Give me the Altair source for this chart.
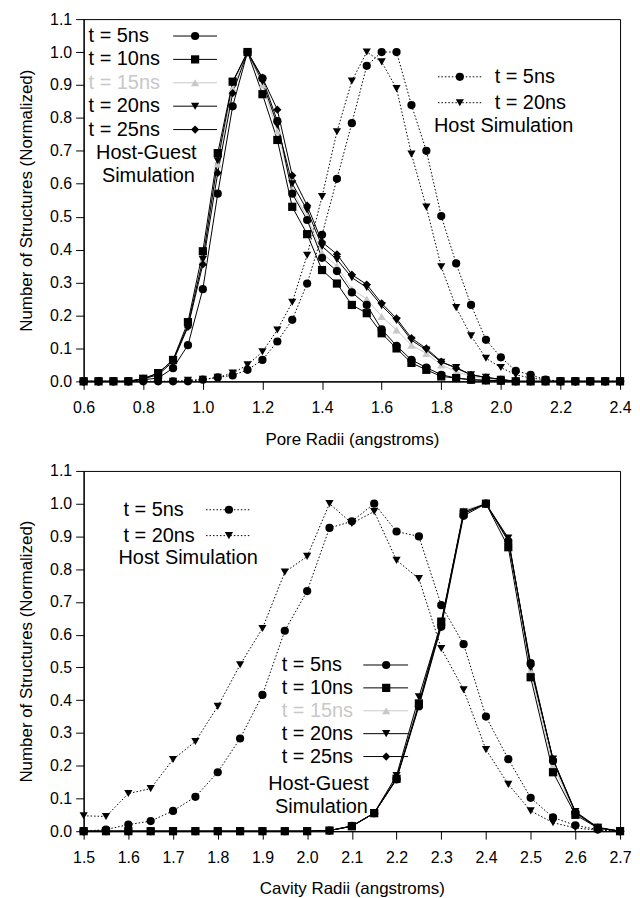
import altair as alt
import pandas as pd

# ---------------- data ----------------
top_x = [0.6, 0.65, 0.7, 0.75, 0.8, 0.85, 0.9, 0.95, 1.0, 1.05, 1.1, 1.15, 1.2,
         1.25, 1.3, 1.35, 1.4, 1.45, 1.5, 1.55, 1.6, 1.65, 1.7, 1.75, 1.8, 1.85,
         1.9, 1.95, 2.0, 2.05, 2.1, 2.15, 2.2, 2.25, 2.3, 2.35, 2.4]

top_hg5 = [0, 0, 0, 0, 0.005, 0.01, 0.04, 0.11, 0.28, 0.57, 0.835, 1.0, 0.92, 0.79, 0.57,
           0.49, 0.375, 0.335, 0.27, 0.232, 0.158, 0.108, 0.065, 0.042, 0.02, 0.01, 0.005,
           0.003, 0.002, 0, 0, 0, 0, 0, 0, 0, 0]
top_hg10 = [0, 0, 0, 0, 0.008, 0.025, 0.065, 0.18, 0.395, 0.693, 0.91, 1.0, 0.872, 0.733, 0.53,
            0.447, 0.338, 0.297, 0.232, 0.207, 0.146, 0.1, 0.056, 0.035, 0.015, 0.01, 0.005,
            0.003, 0.002, 0, 0, 0, 0, 0, 0, 0, 0]
top_hg15 = [0, 0, 0, 0, 0.008, 0.02, 0.06, 0.17, 0.37, 0.66, 0.89, 1.0, 0.9, 0.76, 0.58,
            0.5, 0.39, 0.35, 0.28, 0.25, 0.197, 0.156, 0.11, 0.085, 0.05, 0.03, 0.015,
            0.008, 0.004, 0, 0, 0, 0, 0, 0, 0, 0]
top_hg20 = [0, 0, 0, 0, 0.008, 0.025, 0.065, 0.17, 0.37, 0.67, 0.907, 1.0, 0.91, 0.778, 0.6,
            0.52, 0.41, 0.37, 0.315, 0.285, 0.23, 0.185, 0.125, 0.095, 0.058, 0.042, 0.02,
            0.012, 0.006, 0, 0, 0, 0, 0, 0, 0, 0]
top_hg25 = [0, 0, 0, 0, 0.008, 0.02, 0.06, 0.165, 0.355, 0.633, 0.875, 1.0, 0.922, 0.825, 0.625,
            0.534, 0.423, 0.386, 0.324, 0.294, 0.237, 0.191, 0.131, 0.1, 0.06, 0.04, 0.02,
            0.012, 0.006, 0, 0, 0, 0, 0, 0, 0, 0]
top_h5 = [0, 0, 0, 0, 0, 0, 0, 0, 0.005, 0.012, 0.018, 0.035, 0.065, 0.121, 0.187, 0.297,
          0.445, 0.615, 0.784, 0.958, 1.0, 1.0, 0.839, 0.70, 0.502, 0.358, 0.232, 0.126,
          0.073, 0.032, 0.02, 0.005, 0, 0, 0, 0, 0]
top_h20 = [0, 0, 0, 0, 0, 0, 0, 0.003, 0.006, 0.012, 0.025, 0.05, 0.09, 0.156, 0.24, 0.383,
           0.561, 0.758, 0.912, 1.0, 0.97, 0.889, 0.69, 0.529, 0.348, 0.224, 0.138, 0.07,
           0.042, 0.02, 0.01, 0.005, 0, 0, 0, 0, 0]

bot_x = [1.5, 1.55, 1.6, 1.65, 1.7, 1.75, 1.8, 1.85, 1.9, 1.95, 2.0, 2.05, 2.1, 2.15,
         2.2, 2.25, 2.3, 2.35, 2.4, 2.45, 2.5, 2.55, 2.6, 2.65, 2.7]

bot_hg5 = [0, 0, 0, 0, 0, 0, 0, 0, 0, 0, 0, 0.002, 0.016, 0.055, 0.158, 0.381, 0.624, 0.963,
           1.0, 0.885, 0.513, 0.215, 0.057, 0.01, 0]
bot_hg10 = [0, 0, 0, 0, 0, 0, 0, 0, 0, 0, 0, 0.002, 0.015, 0.055, 0.16, 0.39, 0.64, 0.97,
            1.0, 0.867, 0.47, 0.18, 0.05, 0.01, 0]
bot_hg15 = [0, 0, 0, 0, 0, 0, 0, 0, 0, 0, 0, 0.002, 0.015, 0.055, 0.17, 0.40, 0.63, 0.98,
            1.0, 0.89, 0.49, 0.2, 0.055, 0.01, 0]
bot_hg20 = [0, 0, 0, 0, 0, 0, 0, 0, 0, 0, 0, 0.002, 0.016, 0.056, 0.17, 0.41, 0.635, 0.975,
            1.0, 0.895, 0.5, 0.22, 0.06, 0.012, 0]
bot_hg25 = [0, 0, 0, 0, 0, 0, 0, 0, 0, 0, 0, 0.002, 0.015, 0.055, 0.162, 0.385, 0.63, 0.97,
            1.0, 0.89, 0.505, 0.22, 0.058, 0.01, 0]
bot_h5 = [0, 0.005, 0.02, 0.031, 0.062, 0.105, 0.18, 0.283, 0.416, 0.612, 0.733, 0.926,
          0.946, 1.0, 0.915, 0.9, 0.69, 0.571, 0.35, 0.22, 0.102, 0.042, 0.018, 0.005, 0]
bot_h20 = [0.047, 0.045, 0.115, 0.13, 0.219, 0.274, 0.381, 0.508, 0.619, 0.791, 0.839, 1.0,
           0.94, 0.976, 0.827, 0.771, 0.558, 0.432, 0.249, 0.143, 0.062, 0.026, 0.01, 0.003, 0]

top_ticks = [0.6, 0.8, 1.0, 1.2, 1.4, 1.6, 1.8, 2.0, 2.2, 2.4]
bot_ticks = [1.5, 1.6, 1.7, 1.8, 1.9, 2.0, 2.1, 2.2, 2.3, 2.4, 2.5, 2.6, 2.7]
y_ticks = [0.0, 0.1, 0.2, 0.3, 0.4, 0.5, 0.6, 0.7, 0.8, 0.9, 1.0, 1.1]

hg_labels = ["t = 5ns", "t = 10ns", "t = 15ns", "t = 20ns", "t = 25ns"]
h_labels = ["t = 5ns", "t = 20ns"]

# ---------------- styling ----------------
FONT = "Liberation Sans"
LEG_FS = 20
MSIZE = 68
PLOT_W = 539
keys = ["HG15", "HG5", "HG10", "HG20", "HG25", "H5", "H20"]
shape_range = ["triangle-up", "circle", "square", "triangle-down", "diamond", "circle", "triangle-down"]
color_range = ["#c8c8c8", "black", "black", "black", "black", "black", "black"]
hg_keys = ["HG5", "HG10", "HG15", "HG20", "HG25"]
h_keys = ["H5", "H20"]

shape_enc = alt.Shape("s:N", scale=alt.Scale(domain=keys, range=shape_range), legend=None)
color_enc = alt.Color("s:N", scale=alt.Scale(domain=keys, range=color_range), legend=None)


def long_df(x, series, order):
    rows = []
    for k in order:
        for xi, yi in zip(x, series[k]):
            rows.append({"r": xi, "v": yi, "s": k})
    return pd.DataFrame(rows)


def panel(x, hg, h, xdom, xticks, xtitle, height, hg_leg, h_leg):
    X = alt.X("r:Q", scale=alt.Scale(domain=xdom, nice=False, zero=False),
              axis=alt.Axis(values=xticks, format=".1f", title=xtitle))
    Y = alt.Y("v:Q", scale=alt.Scale(domain=[0, 1.1], nice=False),
              axis=alt.Axis(values=y_ticks, format=".1f",
                            title="Number of Structures (Normalized)"))
    order_hg = ["HG15", "HG5", "HG10", "HG20", "HG25"]
    hg_df = long_df(x, hg, order_hg)
    h_df = long_df(x, h, h_keys)

    layers = []
    layers.append(alt.Chart(hg_df).mark_line(strokeWidth=1).encode(
        x=X, y=Y, color=color_enc, detail="s:N"))
    layers.append(alt.Chart(h_df).mark_line(strokeWidth=1, strokeDash=[1.5, 2]).encode(
        x=X, y=Y, color=color_enc, detail="s:N"))
    layers.append(alt.Chart(hg_df).mark_point(filled=True, size=MSIZE, opacity=1).encode(
        x=X, y=Y, shape=shape_enc, color=color_enc))
    layers.append(alt.Chart(h_df).mark_point(filled=True, size=MSIZE, opacity=1).encode(
        x=X, y=Y, shape=shape_enc, color=color_enc))

    # --- legends (pixel layout inside the plot area) ---
    for leg, keyset, labels, dash in [(hg_leg, hg_keys, hg_labels, None),
                                      (h_leg, h_keys, h_labels, [1.5, 2])]:
        rows = pd.DataFrame({
            "s": keyset, "lab": labels,
            "tx": [leg["tx"]] * len(keyset),
            "ty": [leg["y0"] + i * leg["dy"] for i in range(len(keyset))],
            "l1": [leg["l1"]] * len(keyset), "l2": [leg["l2"]] * len(keyset),
            "mx": [leg["mx"]] * len(keyset),
        })
        layers.append(alt.Chart(rows).mark_text(
            align="left", baseline="middle", font=FONT, fontSize=LEG_FS).encode(
            x=alt.X("tx:Q", scale=None), y=alt.Y("ty:Q", scale=None),
            text="lab:N", color=color_enc))
        rule_kw = {"strokeWidth": 1}
        if dash:
            rule_kw["strokeDash"] = dash
        layers.append(alt.Chart(rows).mark_rule(**rule_kw).encode(
            x=alt.X("l1:Q", scale=None), x2="l2:Q", y=alt.Y("ty:Q", scale=None),
            color=color_enc))
        layers.append(alt.Chart(rows).mark_point(filled=True, size=MSIZE, opacity=1).encode(
            x=alt.X("mx:Q", scale=None), y=alt.Y("ty:Q", scale=None),
            shape=shape_enc, color=color_enc))
        cap = pd.DataFrame({"lab": leg["cap"], "cx": leg["cx"], "cy": leg["cy"]})
        layers.append(alt.Chart(cap).mark_text(
            align=leg["calign"], baseline="middle", font=FONT, fontSize=LEG_FS, color="black").encode(
            x=alt.X("cx:Q", scale=None), y=alt.Y("cy:Q", scale=None), text="lab:N"))

    return alt.layer(*layers).properties(width=PLOT_W, height=height)


top = panel(
    top_x,
    {"HG5": top_hg5, "HG10": top_hg10, "HG15": top_hg15, "HG20": top_hg20, "HG25": top_hg25},
    {"H5": top_h5, "H20": top_h20},
    [0.6, 2.4], top_ticks, "Pore Radii (angstroms)", 364,
    {"tx": 5, "y0": 17, "dy": 23.5, "l1": 90, "l2": 134, "mx": 112,
     "cap": ["Host-Guest", "Simulation"], "cx": [63, 65], "cy": [135, 158], "calign": "center"},
    {"tx": 413, "y0": 58, "dy": 26, "l1": 356, "l2": 401, "mx": 378,
     "cap": ["Host Simulation"], "cx": [352], "cy": [107], "calign": "left"},
)

bottom = panel(
    bot_x,
    {"HG5": bot_hg5, "HG10": bot_hg10, "HG15": bot_hg15, "HG20": bot_hg20, "HG25": bot_hg25},
    {"H5": bot_h5, "H20": bot_h20},
    [1.5, 2.7], bot_ticks, "Cavity Radii (angstroms)", 362,
    {"tx": 199, "y0": 195, "dy": 23, "l1": 281, "l2": 326, "mx": 304,
     "cap": ["Host-Guest", "Simulation"], "cx": [236, 239], "cy": [315, 338], "calign": "center"},
    {"tx": 40, "y0": 39, "dy": 26, "l1": 123, "l2": 168, "mx": 146,
     "cap": ["Host Simulation"], "cx": [35], "cy": [88], "calign": "left"},
)

chart = alt.vconcat(top, bottom, spacing=14).properties(
    padding={"left": 9, "top": 0, "right": 0, "bottom": 3},
    background="white",
).configure_view(
    stroke="black", strokeWidth=1
).configure_axis(
    labelFont=FONT, labelFontSize=16, labelColor="black",
    titleFont=FONT, titleFontSize=17, titleFontWeight="normal", titleColor="black",
    tickColor="black", domainColor="black", tickSize=8, grid=False, domainWidth=1.2,
    labelFlush=False,
).configure_axisX(
    labelPadding=10, titlePadding=16,
).configure_axisY(
    labelPadding=4, titlePadding=14,
)

chart.save("out.html", embed_options={"renderer": "svg", "actions": False})
